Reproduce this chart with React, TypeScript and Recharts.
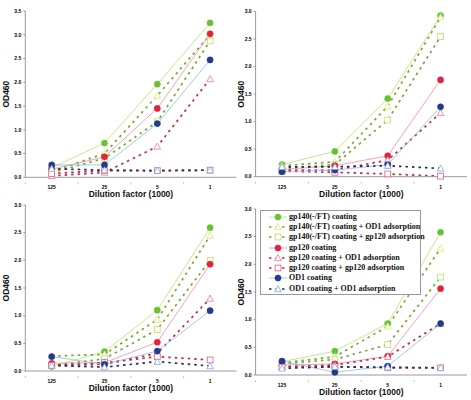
import { LineChart, Line, XAxis, YAxis, Legend } from 'recharts'

const dilutions = ['125', '25', '5', '1']

const seriesNames = [
  'gp140(-/FT) coating',
  'gp140(-/FT) coating + OD1 adsorption',
  'gp140(-/FT) coating + gp120 adsorption',
  'gp120 coating',
  'gp120 coating + OD1 adsorption',
  'gp120 coating + gp120 adsorption',
  'OD1 coating',
  'OD1 coating + OD1 adsorption',
]

// one row per series, same order as seriesNames, values at 125 / 25 / 5 / 1
const panelA = [
  [0.2, 0.72, 1.96, 3.25],
  [0.12, 0.5, 1.72, 3.0],
  [0.1, 0.4, 1.17, 2.87],
  [0.17, 0.43, 1.45, 3.02],
  [0.03, 0.1, 0.65, 2.07],
  [0.08, 0.14, 0.14, 0.15],
  [0.26, 0.26, 1.13, 2.47],
  [0.18, 0.15, 0.14, 0.15],
]

const panelB = [
  [0.22, 0.46, 1.42, 2.93],
  [0.2, 0.27, 1.28, 2.9],
  [0.15, 0.22, 1.03, 2.55],
  [0.13, 0.2, 0.38, 1.76],
  [0.12, 0.12, 0.3, 1.16],
  [0.1, 0.08, 0.05, 0.01],
  [0.09, 0.12, 0.22, 1.27],
  [0.18, 0.18, 0.2, 0.15],
]

const panelC = [
  [0.08, 0.35, 1.1, 2.59],
  [0.27, 0.3, 0.93, 2.45],
  [0.1, 0.22, 0.75, 2.0],
  [0.14, 0.15, 0.52, 1.93],
  [0.1, 0.12, 0.32, 1.31],
  [0.1, 0.15, 0.26, 0.2],
  [0.26, 0.12, 0.36, 1.09],
  [0.1, 0.07, 0.17, 0.09],
]

const panelD = [
  [0.24, 0.43, 0.93, 2.58],
  [0.22, 0.33, 0.88, 2.29],
  [0.2, 0.28, 0.55, 1.77],
  [0.18, 0.2, 0.34, 1.56],
  [0.15, 0.18, 0.33, 0.93],
  [0.15, 0.15, 0.13, 0.13],
  [0.25, 0.05, 0.16, 0.93],
  [0.12, 0.15, 0.14, 0.13],
]

const ticks35 = [0, 0.5, 1, 1.5, 2, 2.5, 3, 3.5]
const ticks30 = [0, 0.5, 1, 1.5, 2, 2.5, 3]

const STYLES = [
  { shape: 'circle', line: '#b4e46a', dash: false, mark: '#66c236' },
  { shape: 'triangle', line: '#78a832', dash: true, mark: '#d2ec6c' },
  { shape: 'square', line: '#78a832', dash: true, mark: '#b6e06a' },
  { shape: 'circle', line: '#f08aa6', dash: false, mark: '#e2233f' },
  { shape: 'triangle', line: '#c22c4c', dash: true, mark: '#ea7893' },
  { shape: 'square', line: '#c22c4c', dash: true, mark: '#e65a78' },
  { shape: 'circle', line: '#8cbbea', dash: false, mark: '#213b8f' },
  { shape: 'triangle', line: '#1e2d62', dash: true, mark: '#7ca9e2' },
]

const tickFont = { fontSize: 5, fontWeight: 'bold', fontFamily: '"Liberation Sans", Arial, sans-serif', fill: '#000' }
const labelFont = { fontSize: 8.5, fontWeight: 'bold', fontFamily: '"Liberation Sans", Arial, sans-serif', fill: '#111' }

function marker(shape: string, color: string, cx: number, cy: number, key?: any) {
  if (shape === 'circle') return <circle key={key} cx={cx} cy={cy} r={3.1} fill={color} stroke={color} strokeWidth={0.5} />
  if (shape === 'triangle')
    return <path key={key} d={`M${cx},${cy - 3.4}L${cx + 3.3},${cy + 2.7}L${cx - 3.3},${cy + 2.7}Z`} fill="#fff" stroke={color} strokeWidth={0.8} />
  return <rect key={key} x={cx - 2.9} y={cy - 2.9} width={5.8} height={5.8} fill="#fff" stroke={color} strokeWidth={0.8} />
}

function makeDot(shape: string, color: string) {
  return (p: any) => {
    if (p.cx == null || p.cy == null) return <g key={p.key} />
    return marker(shape, color, p.cx, p.cy, p.key)
  }
}

function LegendBox() {
  return (
    <div style={{ border: '1px solid #9a9a9a', background: '#fff', padding: '0.5px 0', fontFamily: '"Liberation Serif", "Times New Roman", serif', fontWeight: 'bold', fontSize: 8, color: '#111', lineHeight: 1 }}>
      {seriesNames.map((name, i) => {
        const s = STYLES[i]
        return (
          <div key={name} style={{ display: 'flex', alignItems: 'center', height: 10.3 }}>
            <svg width={28} height={10} style={{ flex: 'none' }}>
              <line x1={8} x2={26} y1={5} y2={5} stroke={s.line} strokeWidth={s.dash ? 1.6 : 0.8} strokeDasharray={s.dash ? '2.5 4' : undefined} />
              {marker(s.shape, s.mark, 17, 5)}
            </svg>
            <span style={{ whiteSpace: 'nowrap' }}>{name}</span>
          </div>
        )
      })}
    </div>
  )
}

interface PanelProps {
  values: number[][]
  ticks: number[]
  left: number
  top: number
  width: number
  yWidth: number
  right: number
  mTop: number
  mBottom: number
  legend?: boolean
}

function Panel({ values, ticks, left, top, width, yWidth, right, mTop, mBottom, legend }: PanelProps) {
  const data = dilutions.map((d, j) => {
    const row: any = { dil: d }
    values.forEach((v, i) => { row['s' + i] = v[j] })
    return row
  })
  const half = (width - yWidth - right) / 8
  const XTick = (p: any) => (
    <g>
      <line x1={p.x - half} x2={p.x - half} y1={p.y - 3} y2={p.y - 1} stroke="#999" strokeWidth={0.6} />
      <text x={p.x} y={p.y + 4} textAnchor="middle" {...tickFont}>{p.payload.value}</text>
    </g>
  )
  return (
    <div style={{ position: 'absolute', left, top }}>
      <LineChart width={width} height={200} data={data} margin={{ top: mTop, right, bottom: mBottom, left: 0 }}>
        <XAxis dataKey="dil" height={22} stroke="#999" tickLine={false} tick={XTick} interval={0}
          padding={{ left: half, right: half }}
          label={{ value: 'Dilution factor (1000)', position: 'insideBottom', offset: 2, style: labelFont }} />
        <YAxis type="number" domain={[0, ticks[ticks.length - 1]]} ticks={ticks} width={yWidth} stroke="#999" tickSize={2} tickMargin={2}
          tick={tickFont} tickFormatter={(v: number) => v.toFixed(1)} interval={0}
          label={{ value: 'OD460', angle: -90, position: 'insideLeft', offset: 6, style: { ...labelFont, textAnchor: 'middle' } }} />
        {STYLES.map((s, i) => (
          <Line key={i} dataKey={'s' + i} type="linear" stroke={s.line} strokeWidth={s.dash ? 1.7 : 0.8}
            strokeDasharray={s.dash ? '2.5 4' : undefined} dot={makeDot(s.shape, s.mark)} activeDot={false} isAnimationActive={false} />
        ))}
        {legend && (
          <Legend layout="vertical" align="center" verticalAlign="middle" content={() => <LegendBox />}
            wrapperStyle={{ left: 25, top: 10, width: 161 }} />
        )}
      </LineChart>
    </div>
  )
}

export default function App() {
  return (
    <div style={{ position: 'absolute', left: 0, top: 0, width: 471, height: 400, background: '#fff' }}>
      <Panel values={panelA} ticks={ticks35} left={0} top={0} width={240} yWidth={25.3} right={3.5} mTop={11} mBottom={0.7} />
      <Panel values={panelB} ticks={ticks30} left={235} top={0} width={236} yWidth={20.6} right={4} mTop={11.7} mBottom={1.3} />
      <Panel values={panelC} ticks={ticks30} left={0} top={200} width={240} yWidth={25.3} right={3.5} mTop={5} mBottom={7} />
      <Panel values={panelD} ticks={ticks30} left={235} top={200} width={236} yWidth={20.6} right={4} mTop={9} mBottom={3} legend />
    </div>
  )
}
